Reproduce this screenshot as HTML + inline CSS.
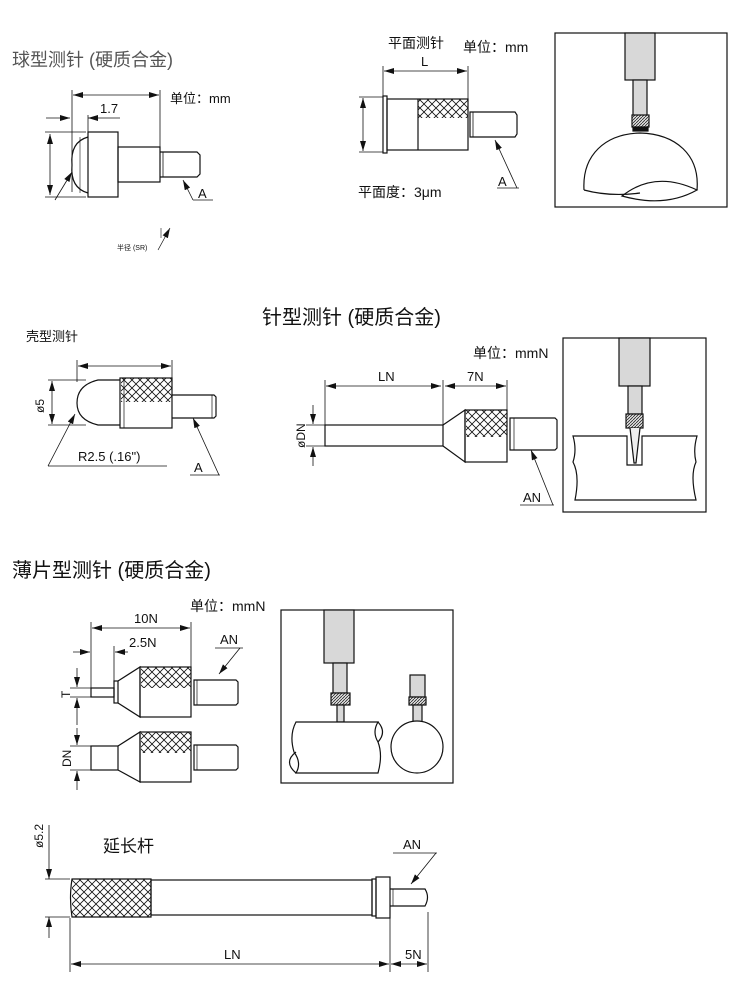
<!DOCTYPE html>
<html><head><meta charset="utf-8"><style>
html,body{margin:0;padding:0;background:#fff;width:750px;height:1000px;overflow:hidden}
svg{display:block}
text{font-family:"Liberation Sans","Noto Sans CJK SC",sans-serif;fill:#111}
</style></head><body>
<svg width="750" height="1000" viewBox="0 0 750 1000" xmlns="http://www.w3.org/2000/svg">
<defs>
<pattern id="kn" width="8" height="8" patternUnits="userSpaceOnUse">
<rect width="8" height="8" fill="#fff"/>
<path d="M0,0L8,8M8,0L0,8" stroke="#111" stroke-width="0.8"/>
</pattern>
<pattern id="ht" width="3" height="3" patternUnits="userSpaceOnUse">
<rect width="3" height="3" fill="#ddd"/>
<path d="M0,3L3,0" stroke="#111" stroke-width="0.7"/>
</pattern>
<marker id="ar" markerWidth="10" markerHeight="6" refX="10" refY="3" orient="auto-start-reverse" markerUnits="userSpaceOnUse">
<path d="M0,0L10,3L0,6z" fill="#111"/>
</marker>
</defs>
<g fill="none" stroke="#111" stroke-width="1.2">

<!-- Section 1 -->
<line x1="72" y1="90" x2="72" y2="192" stroke-width="0.8"/>
<line x1="160" y1="90" x2="160" y2="150" stroke-width="0.8"/>
<line x1="73" y1="95" x2="159" y2="95" stroke-width="0.8" marker-start="url(#ar)" marker-end="url(#ar)"/>
<line x1="46" y1="118" x2="70" y2="118" stroke-width="0.8" marker-end="url(#ar)"/>
<line x1="88" y1="118" x2="120" y2="118" stroke-width="0.8" marker-start="url(#ar)"/>
<line x1="88" y1="115" x2="88" y2="132" stroke-width="0.8"/>
<line x1="45" y1="132" x2="86" y2="132" stroke-width="0.8"/>
<line x1="45" y1="197" x2="86" y2="197" stroke-width="0.8"/>
<line x1="50" y1="134" x2="50" y2="195" stroke-width="0.8" marker-start="url(#ar)" marker-end="url(#ar)"/>
<path d="M88,137 Q70,142 72,165 Q70,188 88,193"/>
<line x1="80" y1="137" x2="80" y2="193" stroke-width="0.6"/>
<rect x="88" y="132" width="30" height="65"/>
<rect x="118" y="147" width="42" height="35"/>
<path d="M160,152 L197,152 L200,155 L200,174 L197,177 L160,177"/>
<line x1="163" y1="152" x2="163" y2="177" stroke-width="0.8"/>
<line x1="55" y1="200" x2="72" y2="172" stroke-width="0.8" marker-end="url(#ar)"/>
<line x1="193" y1="200" x2="183" y2="180" stroke-width="0.8" marker-end="url(#ar)"/>
<line x1="193" y1="200" x2="213" y2="200" stroke-width="0.8"/>
<line x1="158" y1="250" x2="170" y2="228" stroke-width="0.7" marker-end="url(#ar)"/>
<line x1="161" y1="238" x2="161" y2="228" stroke-width="0.6"/>

<!-- Section 2 -->
<line x1="383" y1="66" x2="383" y2="96" stroke-width="0.8"/>
<line x1="468" y1="66" x2="468" y2="99" stroke-width="0.8"/>
<line x1="384" y1="71" x2="467" y2="71" stroke-width="0.8" marker-start="url(#ar)" marker-end="url(#ar)"/>
<line x1="359" y1="97" x2="383" y2="97" stroke-width="0.8"/>
<line x1="359" y1="152" x2="383" y2="152" stroke-width="0.8"/>
<line x1="363" y1="98" x2="363" y2="151" stroke-width="0.8" marker-start="url(#ar)" marker-end="url(#ar)"/>
<rect x="383" y="96" width="4" height="57"/>
<rect x="418" y="99" width="50" height="19" fill="url(#kn)" stroke="none"/>
<rect x="387" y="99" width="81" height="51"/>
<line x1="418" y1="99" x2="418" y2="150"/>
<path d="M470,112 L515,112 L517,115 L517,134 L515,137 L470,137 z"/>
<line x1="473" y1="112" x2="473" y2="137" stroke-width="0.8"/>
<line x1="517" y1="188" x2="495" y2="140" stroke-width="0.8" marker-end="url(#ar)"/>
<line x1="497" y1="188" x2="519" y2="188" stroke-width="0.8"/>
<rect x="555" y="33" width="172" height="174"/>
<rect x="625" y="33" width="30" height="47" fill="#d8d8d8"/>
<rect x="633" y="80" width="14" height="37" fill="#d8d8d8"/>
<rect x="632" y="115" width="17" height="12" fill="url(#ht)"/>
<rect x="633" y="127" width="15" height="4" fill="#111"/>
<path d="M584,190 C582,155 605,134 640,133 C676,134 700,155 697,190"/>
<path d="M584,190 Q610,197 640,193"/>
<path d="M622,196 Q655,170 697,190 Q665,208 622,196 z"/>

<!-- Section 3 left -->
<line x1="77" y1="360" x2="77" y2="382" stroke-width="0.8"/>
<line x1="172" y1="360" x2="172" y2="378" stroke-width="0.8"/>
<line x1="78" y1="366" x2="171" y2="366" stroke-width="0.8" marker-start="url(#ar)" marker-end="url(#ar)"/>
<line x1="48" y1="380" x2="86" y2="380" stroke-width="0.8"/>
<line x1="48" y1="425" x2="86" y2="425" stroke-width="0.8"/>
<line x1="52" y1="381" x2="52" y2="424" stroke-width="0.8" marker-start="url(#ar)" marker-end="url(#ar)"/>
<path d="M120,380 L98,380 Q77,385 77,403 Q77,420 98,425 L120,425"/>
<rect x="121" y="378" width="51" height="24" fill="url(#kn)" stroke="none"/>
<rect x="120" y="378" width="52" height="50"/>
<line x1="124" y1="378" x2="124" y2="428" stroke-width="0.7"/>
<path d="M172,395 L214,395 L216,397 L216,416 L214,418 L172,418"/>
<line x1="212" y1="395" x2="212" y2="418" stroke-width="0.7"/>
<line x1="48" y1="466" x2="75" y2="414" stroke-width="0.8" marker-end="url(#ar)"/>
<line x1="48" y1="466" x2="167" y2="466" stroke-width="0.8"/>
<line x1="219" y1="475" x2="193" y2="418" stroke-width="0.8" marker-end="url(#ar)"/>
<line x1="190" y1="475" x2="220" y2="475" stroke-width="0.8"/>

<!-- Section 3 needle -->
<line x1="325" y1="380" x2="325" y2="425" stroke-width="0.8"/>
<line x1="443" y1="380" x2="443" y2="425" stroke-width="0.8"/>
<line x1="507" y1="380" x2="507" y2="410" stroke-width="0.8"/>
<line x1="326" y1="386" x2="441" y2="386" stroke-width="0.8" marker-start="url(#ar)" marker-end="url(#ar)"/>
<line x1="445" y1="386" x2="506" y2="386" stroke-width="0.8" marker-start="url(#ar)" marker-end="url(#ar)"/>
<line x1="306" y1="425" x2="325" y2="425" stroke-width="0.8"/>
<line x1="306" y1="446" x2="325" y2="446" stroke-width="0.8"/>
<line x1="313" y1="405" x2="313" y2="424" stroke-width="0.8" marker-end="url(#ar)"/>
<line x1="313" y1="466" x2="313" y2="447" stroke-width="0.8" marker-end="url(#ar)"/>
<rect x="325" y="425" width="118" height="21"/>
<path d="M443,425 L465,410 L465,462 L443,446"/>
<rect x="466" y="410" width="41" height="27" fill="url(#kn)" stroke="none"/>
<rect x="465" y="410" width="42" height="52"/>
<path d="M510,418 L555,418 L557,420 L557,448 L555,450 L510,450 z"/>
<line x1="514" y1="418" x2="514" y2="450" stroke-width="0.7"/>
<line x1="553" y1="505" x2="531" y2="450" stroke-width="0.8" marker-end="url(#ar)"/>
<line x1="520" y1="505" x2="554" y2="505" stroke-width="0.8"/>
<rect x="563" y="338" width="143" height="174"/>
<rect x="619" y="338" width="31" height="48" fill="#d8d8d8"/>
<rect x="628" y="386" width="14" height="28" fill="#d8d8d8"/>
<rect x="626" y="414" width="17" height="14" fill="url(#ht)"/>
<path d="M573,436 L627,436 L627,465 L642,465 L642,436 L697,436 Q693,450 696,462 Q690,475 696,500 L575,500 Q580,475 573,462 Q577,450 573,436 z" fill="#fff"/>
<path d="M630,428 L634,463 L636,463 L640,428" fill="#eee"/>

<!-- Section 4 -->
<line x1="91" y1="622" x2="91" y2="688" stroke-width="0.8"/>
<line x1="114" y1="646" x2="114" y2="681" stroke-width="0.8"/>
<line x1="191" y1="622" x2="191" y2="667" stroke-width="0.8"/>
<line x1="92" y1="628" x2="190" y2="628" stroke-width="0.8" marker-start="url(#ar)" marker-end="url(#ar)"/>
<line x1="73" y1="652" x2="90" y2="652" stroke-width="0.8" marker-end="url(#ar)"/>
<line x1="115" y1="652" x2="128" y2="652" stroke-width="0.8" marker-start="url(#ar)"/>
<line x1="70" y1="688" x2="91" y2="688" stroke-width="0.8"/>
<line x1="70" y1="697" x2="91" y2="697" stroke-width="0.8"/>
<line x1="77" y1="668" x2="77" y2="687" stroke-width="0.8" marker-end="url(#ar)"/>
<line x1="77" y1="725" x2="77" y2="698" stroke-width="0.8" marker-end="url(#ar)"/>
<rect x="91" y="688" width="23" height="9"/>
<rect x="114" y="681" width="4" height="22"/>
<path d="M118,681 L140,667 L140,717 L118,703"/>
<rect x="141" y="667" width="50" height="21" fill="url(#kn)" stroke="none"/>
<rect x="140" y="667" width="51" height="50"/>
<path d="M194,680 L236,680 L238,682 L238,703 L236,705 L194,705 z"/>
<line x1="197" y1="680" x2="197" y2="705" stroke-width="0.7"/>
<line x1="215" y1="648" x2="243" y2="648" stroke-width="0.8"/>
<line x1="240" y1="648" x2="219" y2="674" stroke-width="0.8" marker-end="url(#ar)"/>
<line x1="70" y1="746" x2="91" y2="746" stroke-width="0.8"/>
<line x1="70" y1="770" x2="91" y2="770" stroke-width="0.8"/>
<line x1="77" y1="728" x2="77" y2="745" stroke-width="0.8" marker-end="url(#ar)"/>
<line x1="77" y1="790" x2="77" y2="771" stroke-width="0.8" marker-end="url(#ar)"/>
<rect x="91" y="746" width="27" height="24"/>
<path d="M118,746 L140,732 L140,782 L118,770"/>
<rect x="141" y="732" width="50" height="21" fill="url(#kn)" stroke="none"/>
<rect x="140" y="732" width="51" height="50"/>
<path d="M194,745 L236,745 L238,747 L238,768 L236,770 L194,770 z"/>
<line x1="197" y1="745" x2="197" y2="770" stroke-width="0.7"/>
<rect x="281" y="610" width="172" height="173"/>
<rect x="324" y="610" width="30" height="53" fill="#d8d8d8"/>
<rect x="333" y="663" width="14" height="30" fill="#d8d8d8"/>
<rect x="331" y="693" width="19" height="12" fill="url(#ht)"/>
<rect x="337" y="705" width="7" height="17" fill="#d8d8d8"/>
<path d="M296,722 L378,722 Q372,732 378,742 Q383,755 378,773 L296,773 Q302,763 294,752 Q289,735 296,722 z" fill="#fff"/>
<path d="M378,722 Q387,732 378,742 M296,752 Q283,762 296,773"/>
<rect x="410" y="675" width="15" height="22" fill="#d8d8d8"/>
<rect x="409" y="697" width="17" height="8" fill="url(#ht)"/>
<rect x="413" y="705" width="9" height="17" fill="#d8d8d8"/>
<circle cx="417" cy="747" r="26" fill="#fff"/>

<!-- Section 5 -->
<line x1="49" y1="825" x2="49" y2="879" stroke-width="0.8" marker-end="url(#ar)"/>
<line x1="49" y1="938" x2="49" y2="917" stroke-width="0.8" marker-end="url(#ar)"/>
<line x1="45" y1="879" x2="70" y2="879" stroke-width="0.8"/>
<line x1="45" y1="917" x2="70" y2="917" stroke-width="0.8"/>
<rect x="72" y="879" width="79" height="38" fill="url(#kn)" stroke="none"/>
<path d="M72,879 L151,879 L151,917 L72,917 Q69,898 72,879 z"/>
<rect x="151" y="880" width="221" height="35"/>
<rect x="372" y="879" width="4" height="37"/>
<rect x="376" y="877" width="14" height="41"/>
<path d="M390,889 L425,889 Q430,897 425,906 L390,906"/>
<line x1="393" y1="889" x2="393" y2="906" stroke-width="0.7"/>
<line x1="393" y1="853" x2="437" y2="853" stroke-width="0.8"/>
<line x1="436" y1="853" x2="411" y2="884" stroke-width="0.8" marker-end="url(#ar)"/>
<line x1="70" y1="918" x2="70" y2="972" stroke-width="0.8"/>
<line x1="390" y1="918" x2="390" y2="972" stroke-width="0.8"/>
<line x1="428" y1="912" x2="428" y2="972" stroke-width="0.8"/>
<line x1="71" y1="964" x2="389" y2="964" stroke-width="0.8" marker-start="url(#ar)" marker-end="url(#ar)"/>
<line x1="391" y1="964" x2="427" y2="964" stroke-width="0.8" marker-start="url(#ar)" marker-end="url(#ar)"/>
</g>

<text x="12" y="66" font-size="18" style="fill:#555">球型测针 (硬质合金)</text>
<text x="170" y="103" font-size="13">单位：mm</text>
<text x="100" y="113" font-size="13">1.7</text>
<text x="198" y="198" font-size="13">A</text>
<text x="117" y="250" font-size="7">半径 (SR)</text>
<text x="388" y="48" font-size="14">平面测针</text>
<text x="463" y="52" font-size="14">单位：mm</text>
<text x="421" y="66" font-size="13">L</text>
<text x="498" y="186" font-size="13">A</text>
<text x="358" y="197" font-size="14">平面度：3μm</text>
<text x="262" y="324" font-size="20">针型测针 (硬质合金)</text>
<text x="26" y="341" font-size="13">壳型测针</text>
<text x="44" y="413" font-size="12" transform="rotate(-90 44 413)">ø5</text>
<text x="78" y="461" font-size="13">R2.5 (.16")</text>
<text x="194" y="472" font-size="13">A</text>
<text x="473" y="358" font-size="14">单位：mmN</text>
<text x="378" y="381" font-size="13">LN</text>
<text x="467" y="381" font-size="13">7N</text>
<text x="305" y="448" font-size="12" transform="rotate(-90 305 448)">øDN</text>
<text x="523" y="502" font-size="13">AN</text>
<text x="12" y="577" font-size="20">薄片型测针 (硬质合金)</text>
<text x="190" y="611" font-size="14">单位：mmN</text>
<text x="134" y="623" font-size="13">10N</text>
<text x="129" y="647" font-size="13">2.5N</text>
<text x="220" y="644" font-size="13">AN</text>
<text x="70" y="698" font-size="12" transform="rotate(-90 70 698)">T</text>
<text x="71" y="767" font-size="12" transform="rotate(-90 71 767)">DN</text>
<text x="43" y="848" font-size="12" transform="rotate(-90 43 848)">ø5.2</text>
<text x="103" y="852" font-size="17">延长杆</text>
<text x="403" y="849" font-size="13">AN</text>
<text x="224" y="959" font-size="13">LN</text>
<text x="405" y="959" font-size="13">5N</text>
</svg>
</body></html>
